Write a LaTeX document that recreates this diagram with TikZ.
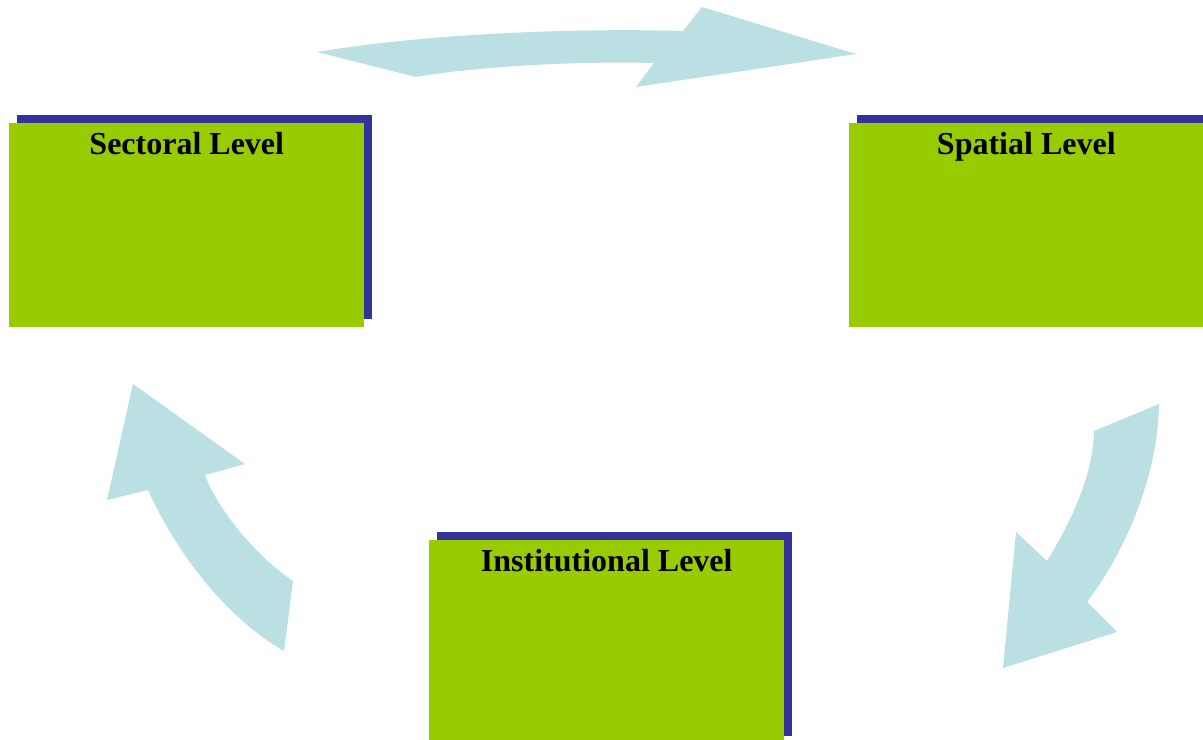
\documentclass[tikz,border=0pt]{standalone}
\usepackage{fontspec}
\setmainfont{Liberation Serif}
\usepackage{xcolor}
\usepackage{tikz}
\usetikzlibrary{positioning,shadows}

\definecolor{levelgreen}{RGB}{153,204,0}
\definecolor{levelblue}{RGB}{51,51,153}
\definecolor{arrowblue}{RGB}{187,224,228}

\begin{document}
\begin{tikzpicture}[
    x=0.75pt, y=-0.75pt,
    levelbox/.style={rectangle, inner sep=0pt, minimum width=266.25pt, minimum height=153pt, text height=23.25pt, text depth=129.75pt, fill=levelgreen, font=\fontsize{24}{28}\selectfont\bfseries, drop shadow={shadow xshift=6pt, shadow yshift=6pt, fill=levelblue, opacity=1}},
    cyclearrow/.style={fill=arrowblue, draw=none}
]
\useasboundingbox (0,0) rectangle (1203,739);
\clip (0,0) rectangle (1203,739);

\node (sectoral) [levelbox, anchor=north west] at (9,123) {Sectoral Level};
\node (spatial) [levelbox, right=363pt of sectoral] {Spatial Level};
\node (institutional) [levelbox, anchor=north west] at (429,540) {Institutional Level};

% sectoral -> spatial
\fill [cyclearrow] (317,52) .. controls (430,33) and (580,28) .. (683,31) -- (702,7) -- (856,54) -- (636,87) -- (654,63)
    .. controls (580,61) and (480,66) .. (416,77) -- cycle;
% spatial -> institutional
\fill [cyclearrow] (1159,404) -- (1094,431) .. controls (1093,475) and (1072,520) .. (1047,561) -- (1016,532) -- (1003,668) -- (1117,632) -- (1087,602)
    .. controls (1130,545) and (1158,470) .. (1159,404) -- cycle;
% institutional -> sectoral
\fill [cyclearrow] (133,384) -- (245,464) -- (205,475) .. controls (218,510) and (255,555) .. (293,581) -- (284,651)
    .. controls (230,620) and (180,560) .. (148,490) -- (107,500) -- cycle;

\end{tikzpicture}
\end{document}
